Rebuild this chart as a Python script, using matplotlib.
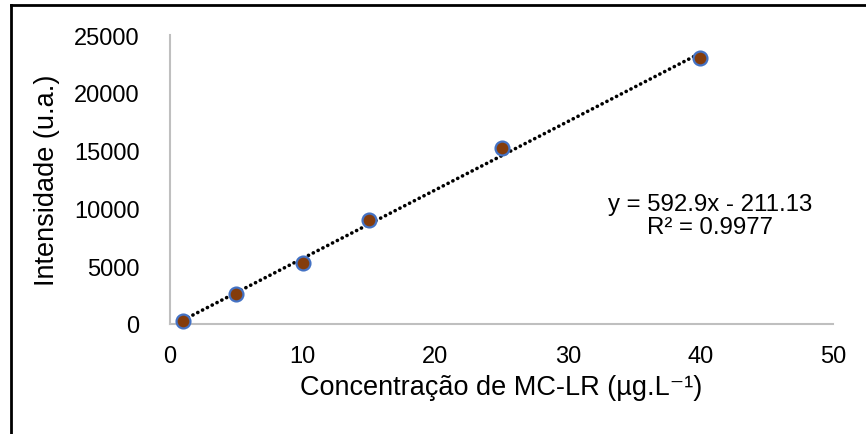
import numpy as np
import matplotlib
matplotlib.use('Agg')
import matplotlib.pyplot as plt
from matplotlib.lines import Line2D

plt.rcParams['font.family'] = ['Liberation Sans', 'DejaVu Sans']

# calibration data
conc = [1, 5, 10, 15, 25, 40]
intens = [250, 2600, 5300, 9000, 15200, 23000]

xticks = [0, 10, 20, 30, 40, 50]
yticks = [0, 5000, 10000, 15000, 20000, 25000]
eq_text = 'y = 592.9x - 211.13\nR² = 0.9977'

fig = plt.figure(figsize=(8.66, 4.35), dpi=100)
ax = fig.add_axes([0.1963, 0.2529, 0.9619 - 0.1963, 0.9172 - 0.2529])

# linear trendline
coef = np.polyfit(conc, intens, 1)
xfit = np.array([min(conc), max(conc)])
ax.plot(xfit, np.polyval(coef, xfit), color='black', lw=2.6,
        linestyle=(0, (0.05, 1.45)), dash_capstyle='round', zorder=2)

ax.plot(conc, intens, 'o', ms=10, mfc='#843C0C', mec='#4472C4', mew=1.6,
        zorder=3, clip_on=False)

ax.set_xlim(0, 50)
ax.set_ylim(0, 25000)
ax.set_xticks(xticks)
ax.set_yticks(yticks)
ax.tick_params(length=0, labelsize=17, colors='black')
ax.tick_params(axis='y', pad=22)
ax.tick_params(axis='x', pad=15)

for s in ['top', 'right']:
    ax.spines[s].set_visible(False)
for s in ['left', 'bottom']:
    ax.spines[s].set_color('#BFBFBF')
    ax.spines[s].set_linewidth(1.5)

ax.set_xlabel('Concentração de MC-LR (µg.L⁻¹)', fontsize=19.5, labelpad=5)
ax.set_ylabel('Intensidade (u.a.)', fontsize=19.5, labelpad=10)

ax.text(40.7, 9350, eq_text, ha='center', va='center', fontsize=17.3,
        linespacing=1.05)

# black frame around the figure (left and top)
fig.add_artist(Line2D([10.5 / 866, 10.5 / 866], [0, 1 - 5.5 / 435],
                      transform=fig.transFigure, color='black', lw=2))
fig.add_artist(Line2D([10.5 / 866, 1], [1 - 5.5 / 435, 1 - 5.5 / 435],
                      transform=fig.transFigure, color='black', lw=2))

fig.savefig('out.png', dpi=100)
